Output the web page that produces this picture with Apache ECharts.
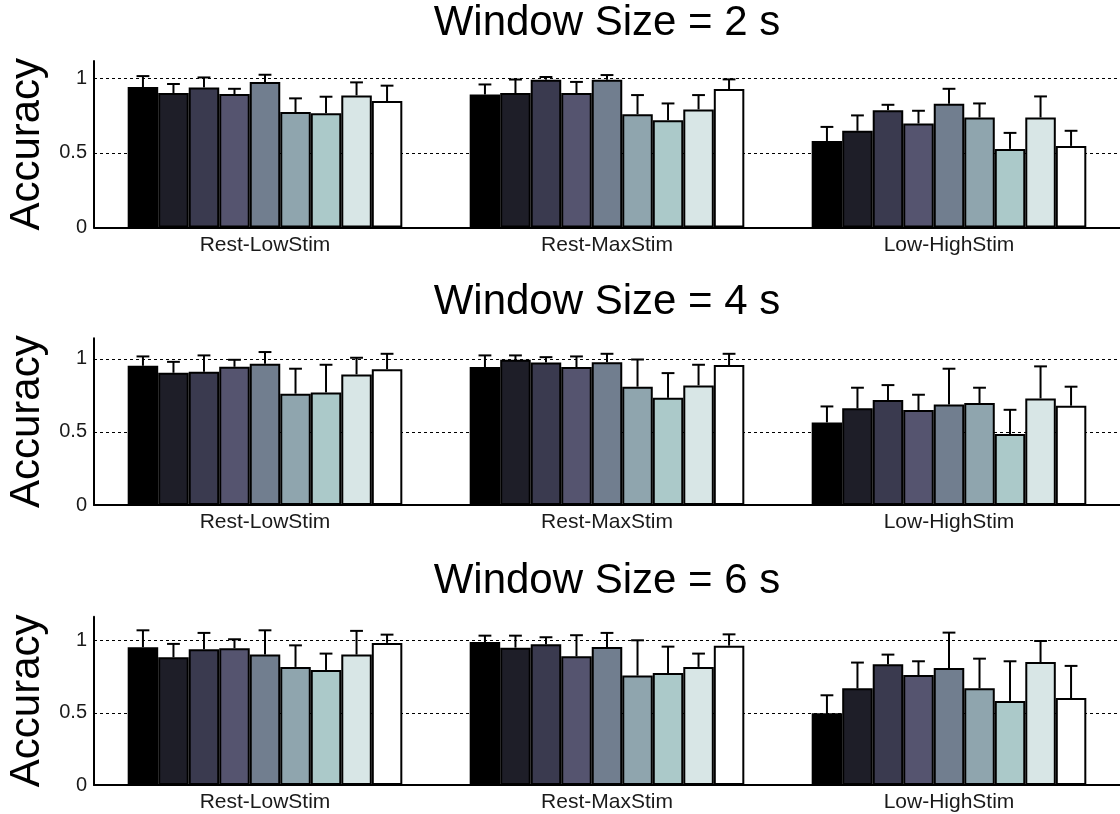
<!DOCTYPE html>
<html>
<head>
<meta charset="utf-8">
<script src="https://cdn.jsdelivr.net/npm/echarts@6/dist/echarts.min.js"></script>
<style>
html,body{margin:0;padding:0;background:#fff;}
#chart{width:1120px;height:814px;}
</style>
</head>
<body>
<div id="chart"></div>
<script>
// ---- Data ----
const categories = ['Rest-LowStim', 'Rest-MaxStim', 'Low-HighStim'];
const panelTitles = ['Window Size = 2 s', 'Window Size = 4 s', 'Window Size = 6 s'];
const yTickLabels = ['0', '0.5', '1'];
const barColors = ['#000000', '#1e1e28', '#3a3a4f', '#55546f', '#717e8f', '#8fa5ae', '#abc9c9', '#d8e6e6', '#ffffff'];

// mean accuracy per category (rows) x classifier (columns)
const mean2s = [
  [0.94, 0.90, 0.937, 0.893, 0.973, 0.772, 0.765, 0.884, 0.846],
  [0.89, 0.90, 0.989, 0.90, 0.989, 0.758, 0.718, 0.79, 0.926],
  [0.579, 0.647, 0.785, 0.696, 0.828, 0.736, 0.526, 0.736, 0.546]
];
const err2s = [
  [0.073, 0.06, 0.067, 0.035, 0.049, 0.092, 0.11, 0.087, 0.103],
  [0.067, 0.09, 0.018, 0.074, 0.031, 0.128, 0.112, 0.096, 0.065],
  [0.094, 0.103, 0.036, 0.085, 0.10, 0.094, 0.107, 0.141, 0.101]
];
const mean4s = [
  [0.952, 0.904, 0.911, 0.945, 0.966, 0.761, 0.77, 0.893, 0.929],
  [0.943, 0.993, 0.975, 0.943, 0.977, 0.809, 0.733, 0.818, 0.957],
  [0.565, 0.661, 0.718, 0.649, 0.688, 0.697, 0.485, 0.729, 0.679]
];
const err4s = [
  [0.064, 0.075, 0.112, 0.048, 0.08, 0.171, 0.189, 0.114, 0.105],
  [0.08, 0.03, 0.036, 0.073, 0.057, 0.186, 0.169, 0.141, 0.077],
  [0.109, 0.141, 0.102, 0.105, 0.244, 0.105, 0.166, 0.219, 0.13]
];
const mean6s = [
  [0.952, 0.882, 0.938, 0.945, 0.901, 0.816, 0.795, 0.901, 0.982],
  [0.988, 0.949, 0.972, 0.889, 0.954, 0.756, 0.774, 0.816, 0.963],
  [0.495, 0.668, 0.834, 0.76, 0.809, 0.668, 0.581, 0.85, 0.601]
];
const err6s = [
  [0.117, 0.093, 0.113, 0.062, 0.168, 0.149, 0.113, 0.164, 0.057],
  [0.044, 0.083, 0.049, 0.146, 0.097, 0.244, 0.182, 0.092, 0.078],
  [0.125, 0.178, 0.067, 0.095, 0.244, 0.205, 0.274, 0.145, 0.222]
];
const gridValues = [0.5, 1];

// ---- Layout ----
const FONT = 'Liberation Sans, Arial, sans-serif';
const means = [mean2s, mean4s, mean6s];
const errs = [err2s, err4s, err6s];
const panels = [
  { top: 61, height: 166.5, max: 1.114, titleY: 2 },
  { top: 338.3, height: 166.7, max: 1.14, titleY: 281 },
  { top: 616.7, height: 168.3, max: 1.163, titleY: 560 }
];
const CAT_GAP = 0.197;
const NB = barColors.length;

const option = {
  animation: false,
  backgroundColor: '#ffffff',
  title: [],
  grid: [],
  xAxis: [],
  yAxis: [],
  series: []
};

panels.forEach((p, k) => {
  option.title.push({
    text: panelTitles[k],
    left: 607, top: p.titleY, textAlign: 'center', padding: 0,
    textStyle: { fontSize: 42, fontWeight: 'normal', fontFamily: FONT, color: '#000' }
  });
  option.grid.push({ left: 94, right: 0, top: p.top, height: p.height, containLabel: false, outerBoundsMode: 'none' });
  option.xAxis.push({
    type: 'category', gridIndex: k, data: categories,
    axisLine: { lineStyle: { color: '#000', width: 2 } },
    axisTick: { show: false },
    axisLabel: { fontSize: 21, fontFamily: FONT, color: '#1a1a1a', margin: 7 },
    splitLine: { show: false }
  });
  option.yAxis.push({
    type: 'value', gridIndex: k, min: 0, max: p.max, interval: 0.5,
    name: 'Accuracy', nameLocation: 'middle', nameGap: 40,
    nameTextStyle: { fontSize: 42, fontFamily: FONT, color: '#000' },
    axisLine: { show: true, lineStyle: { color: '#000', width: 2 } },
    axisTick: { show: false },
    axisLabel: {
      fontSize: 20, fontFamily: FONT, color: '#1a1a1a', margin: 7,
      formatter: v => {
        if (Math.abs(v) < 1e-9) return yTickLabels[0];
        if (Math.abs(v - 0.5) < 1e-9) return yTickLabels[1];
        if (Math.abs(v - 1) < 1e-9) return yTickLabels[2];
        return '';
      }
    },
    splitLine: { show: false }
  });
  // dashed reference lines (behind bars)
  option.series.push({
    type: 'custom', xAxisIndex: k, yAxisIndex: k, z: 1, silent: true,
    data: gridValues.map(v => [0, v]),
    encode: { x: 0, y: 1 },
    renderItem: (params, api) => {
      const cs = params.coordSys;
      const y = Math.round(api.coord([0, api.value(1)])[1]) + 0.5;
      return {
        type: 'line',
        shape: { x1: cs.x, y1: y, x2: cs.x + cs.width, y2: y },
        style: { stroke: '#000', lineWidth: 1, lineDash: [3, 3] }
      };
    }
  });
  // bars
  for (let j = 0; j < NB; j++) {
    option.series.push({
      type: 'bar', xAxisIndex: k, yAxisIndex: k, z: 2,
      barGap: '0%', barCategoryGap: (CAT_GAP * 100) + '%',
      data: categories.map((c, g) => means[k][g][j]),
      itemStyle: { color: barColors[j], borderColor: '#000', borderWidth: 2 }
    });
  }
  // error bars (upper only)
  const ebData = [];
  categories.forEach((c, g) => {
    for (let j = 0; j < NB; j++) ebData.push([g, means[k][g][j], errs[k][g][j], j]);
  });
  option.series.push({
    type: 'custom', xAxisIndex: k, yAxisIndex: k, z: 3, silent: true,
    data: ebData,
    encode: { x: 0, y: 1 },
    renderItem: (params, api) => {
      const g = api.value(0), m = api.value(1), e = api.value(2), j = api.value(3);
      const base = api.coord([g, m]);
      const top = api.coord([g, m + e]);
      const catW = api.size([1, 0])[0];
      const groupW = catW * (1 - CAT_GAP);
      const bw = groupW / NB;
      const x = base[0] - groupW / 2 + bw * (j + 0.5);
      const half = bw * 0.21;
      return {
        type: 'group',
        children: [
          { type: 'line', shape: { x1: x, y1: base[1], x2: x, y2: top[1] },
            style: { stroke: '#000', lineWidth: 2 } },
          { type: 'line', shape: { x1: x - half, y1: top[1], x2: x + half, y2: top[1] },
            style: { stroke: '#000', lineWidth: 2 } }
        ]
      };
    }
  });
});

const chart = echarts.init(document.getElementById('chart'), null, { renderer: 'canvas' });
chart.setOption(option);
</script>
</body>
</html>
